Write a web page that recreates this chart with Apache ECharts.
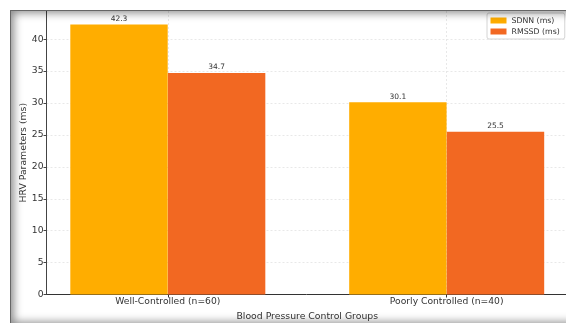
<!DOCTYPE html>
<html>
<head>
<meta charset="utf-8">
<script src="https://cdn.jsdelivr.net/npm/echarts@6/dist/echarts.min.js"></script>
<style>
  html, body { margin: 0; padding: 0; background: #fff; }
  #chart { position: absolute; left: 0; top: 0; width: 566px; height: 323px; }
  #frame {
    position: absolute; left: 10px; top: 10px; width: 600px; height: 313px;
    border-top: 1px solid #666; border-left: 1px solid #666;
    box-shadow: inset 1px 0 9px 2px rgba(0,0,0,0.45);
    pointer-events: none;
  }
</style>
</head>
<body>
<div id="chart"></div>
<div id="frame"></div>
<script>
// Group labels and HRV values (ms)
const groups = ['Well-Controlled (n=60)', 'Poorly Controlled (n=40)'];
const sdnn = [42.3, 30.1];
const rmssd = [34.7, 25.5];
const yTicks = [0, 5, 10, 15, 20, 25, 30, 35, 40];

const BAR_W = 0.35;                 // bar width in group units
const groupIdx = groups.map((g, i) => i);
const pairs = (vals, shift) => vals.map((v, i) => [i + shift, v]);

const font = 'DejaVu Sans';
const chart = echarts.init(document.getElementById('chart'));
chart.setOption({
  animation: false,
  backgroundColor: '#fff',
  textStyle: { fontFamily: font },
  grid: { left: 46.5, right: -2, top: 11, bottom: 28.5, outerBoundsMode: 'none', containLabel: false },
  legend: {
    orient: 'vertical', left: 487, top: 13,
    padding: [3.5, 5, 3.5, 3.5], itemGap: 3,
    itemWidth: 16, itemHeight: 6, icon: 'rect',
    backgroundColor: 'rgba(255,255,255,0.85)', borderColor: '#d4d4d4', borderWidth: 1, borderRadius: 2,
    textStyle: { fontFamily: font, fontSize: 7.8, color: '#333', padding: [0, 0, 0, 0] },
    itemStyle: { borderWidth: 0 },
    data: ['SDNN (ms)', 'RMSSD (ms)']
  },
  xAxis: {
    type: 'value', min: -0.435, max: 1.435,
    name: 'Blood Pressure Control Groups', nameLocation: 'middle', nameGap: 18, nameMoveOverlap: false,
    nameTextStyle: { fontFamily: font, fontSize: 9.3, color: '#333' },
    axisLine: { show: true, onZero: false, lineStyle: { color: '#333', width: 1 } },
    axisTick: { show: true, customValues: groupIdx, length: 3, inside: false, lineStyle: { color: '#333' } },
    axisLabel: {
      customValues: groupIdx, margin: 3, fontFamily: font, fontSize: 9.2, color: '#333',
      formatter: v => groups[Math.round(v)]
    },
    splitLine: { show: true, lineStyle: { color: '#e2e2e2', type: [2, 2], width: 0.8 } }
  },
  yAxis: {
    type: 'value', min: 0, max: 44.415, interval: 5,
    name: 'HRV Parameters (ms)', nameLocation: 'middle', nameGap: 18.5, nameMoveOverlap: false,
    nameTextStyle: { fontFamily: font, fontSize: 9.3, color: '#333' },
    axisLine: { show: true, onZero: false, lineStyle: { color: '#444', width: 1 } },
    axisTick: { show: true, customValues: yTicks, length: 3, inside: false, lineStyle: { color: '#444' } },
    axisLabel: { customValues: yTicks, margin: 3, fontFamily: font, fontSize: 9.2, color: '#333' },
    splitLine: { show: true, lineStyle: { color: '#e2e2e2', type: [2, 2], width: 0.8 } }
  },
  series: [
    {
      name: 'SDNN (ms)', type: 'bar', barWidth: 97.4, barGap: '-100%',
      data: pairs(sdnn, -BAR_W / 2),
      itemStyle: { color: '#FFAD00' },
      label: { show: true, position: 'top', distance: 1.5, fontFamily: font, fontSize: 7.5, color: '#333',
               formatter: p => p.value[1].toFixed(1) }
    },
    {
      name: 'RMSSD (ms)', type: 'bar', barWidth: 97.4, barGap: '-100%',
      data: pairs(rmssd, BAR_W / 2),
      itemStyle: { color: '#F26822' },
      label: { show: true, position: 'top', distance: 1.5, fontFamily: font, fontSize: 7.5, color: '#333',
               formatter: p => p.value[1].toFixed(1) }
    }
  ]
});
</script>
</body>
</html>
